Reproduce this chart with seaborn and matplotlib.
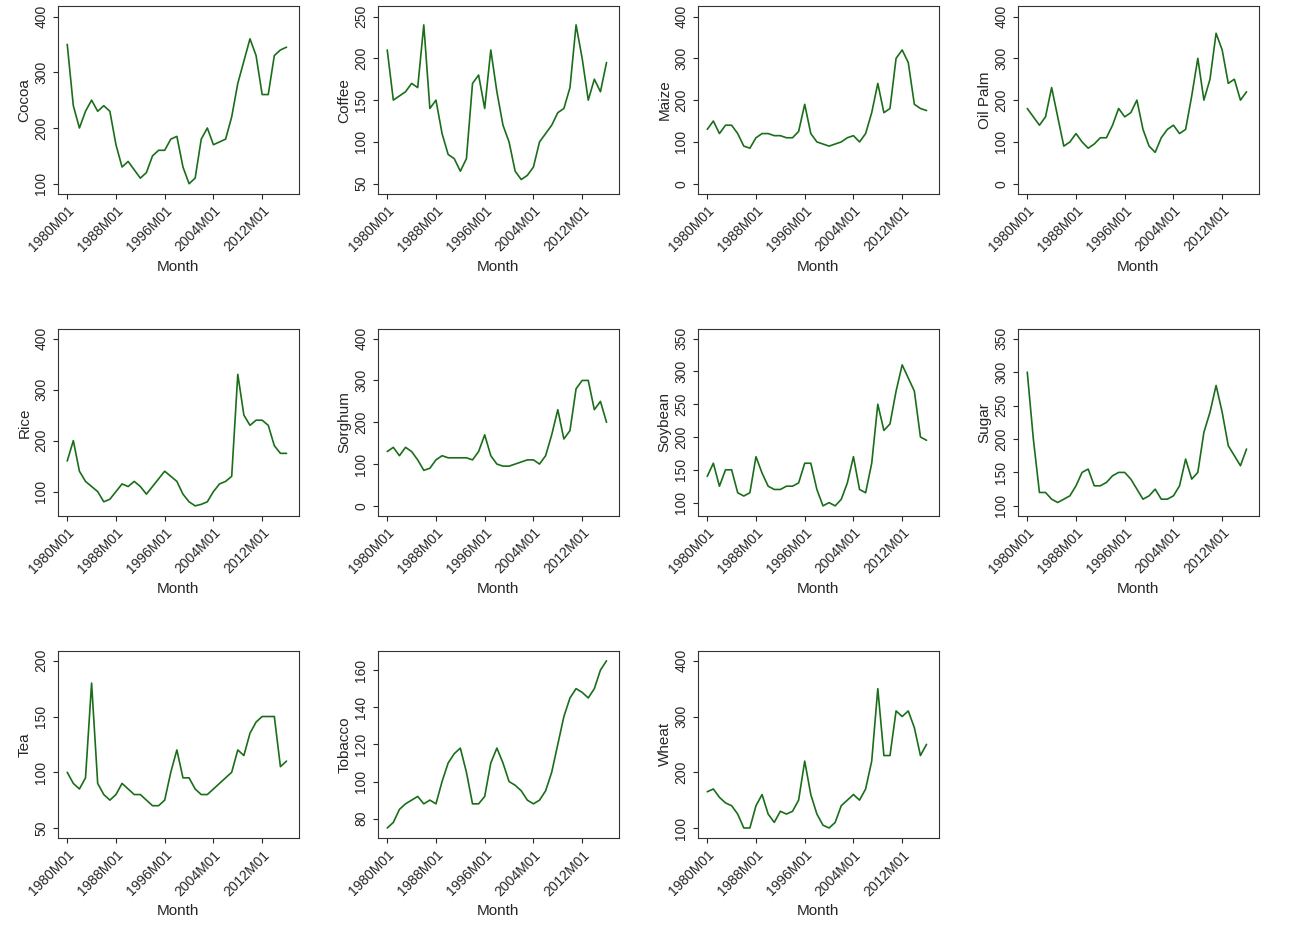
import matplotlib
matplotlib.use("Agg")
import matplotlib.pyplot as plt
import seaborn as sns
import numpy as np

years = list(range(1980, 2017))
names = ["Cocoa","Coffee","Maize","Oil Palm","Rice","Sorghum","Soybean","Sugar","Tea","Tobacco","Wheat"]
cocoa = [350,240,200,230,250,230,240,230,170,130,140,125,110,120,150,160,160,180,185,130,100,110,180,200,170,175,180,220,280,320,360,330,260,260,330,340,345]
coffee = [210,150,155,160,170,165,240,140,150,110,85,80,65,80,170,180,140,210,160,120,100,65,55,60,70,100,110,120,135,140,165,240,200,150,175,160,195]
maize = [130,150,120,140,140,120,90,85,110,120,120,115,115,110,110,125,190,120,100,95,90,95,100,110,115,100,120,170,240,170,180,300,320,290,190,180,175]
oilpalm = [180,160,140,160,230,160,90,100,120,100,85,95,110,110,140,180,160,170,200,130,90,75,110,130,140,120,130,210,300,200,250,360,320,240,250,200,220]
rice = [160,200,140,120,110,100,80,85,100,115,110,120,110,95,110,125,140,130,120,95,80,72,75,80,100,115,120,130,330,250,230,240,240,230,190,175,175]
sorghum = [130,140,120,140,130,110,85,90,110,120,115,115,115,115,110,130,170,120,100,95,95,100,105,110,110,100,120,170,230,160,180,280,300,300,230,250,200]
soybean = [140,160,125,150,150,115,110,115,170,145,125,120,120,125,125,130,160,160,120,95,100,95,105,130,170,120,115,160,250,210,220,270,310,290,270,200,195]
sugar = [300,200,120,120,110,105,110,115,130,150,155,130,130,135,145,150,150,140,125,110,115,125,110,110,115,130,170,140,150,210,240,280,240,190,175,160,185]
tea = [100,90,85,95,180,90,80,75,80,90,85,80,80,75,70,70,75,100,120,95,95,85,80,80,85,90,95,100,120,115,135,145,150,150,150,105,110]
tobacco = [75,78,85,88,90,92,88,90,88,100,110,115,118,105,88,88,92,110,118,110,100,98,95,90,88,90,95,105,120,135,145,150,148,145,150,160,165]
wheat = [165,170,155,145,140,125,100,100,140,160,125,110,130,125,130,150,220,160,125,105,100,110,140,150,160,150,170,220,350,230,230,310,300,310,280,230,250]
series = [cocoa,coffee,maize,oilpalm,rice,sorghum,soybean,sugar,tea,tobacco,wheat]
yticks = [[100,200,300,400],[50,100,150,200,250],[0,100,200,300,400],[0,100,200,300,400],
          [100,200,300,400],[0,100,200,300,400],[100,150,200,250,300,350],[100,150,200,250,300,350],
          [50,100,150,200],[80,100,120,140,160],[100,200,300,400]]
xticks = [1980,1988,1996,2004,2012]
xlabels = ["1980M01","1988M01","1996M01","2004M01","2012M01"]

sns.set_style("ticks")
plt.rcParams['font.family'] = ['Liberation Sans','DejaVu Sans']
fig, axes = plt.subplots(3, 4, figsize=(12.91, 9.26), dpi=100)
for i, ax in enumerate(axes.flat):
    if i >= len(names):
        ax.axis('off'); continue
    sns.lineplot(x=years, y=series[i], ax=ax, color='#1a6e1a', linewidth=1.2)
    ax.set_xticks(xticks)
    ax.set_xticklabels(xlabels, rotation=45, ha='right', rotation_mode='anchor', fontsize=10)
    t = yticks[i]
    lo = min(t[0], min(series[i])); hi = max(t[-1], max(series[i]))
    pad = (hi - lo) * 0.06
    ax.set_ylim(lo - pad, hi + pad)
    ax.set_yticks(t)
    ax.set_yticklabels([str(v) for v in t], rotation=90, va='center', fontsize=10)
    ax.set_xlim(1978.5, 2018)
    ax.set_ylabel(names[i], fontsize=11, labelpad=2)
    ax.set_xlabel("Month", fontsize=11)
    for s in ax.spines.values():
        s.set_linewidth(0.8); s.set_color('#333333')
fig.subplots_adjust(left=0.045, right=0.975, top=0.993, bottom=0.095, wspace=0.33, hspace=0.72)
fig.savefig("out.png")
